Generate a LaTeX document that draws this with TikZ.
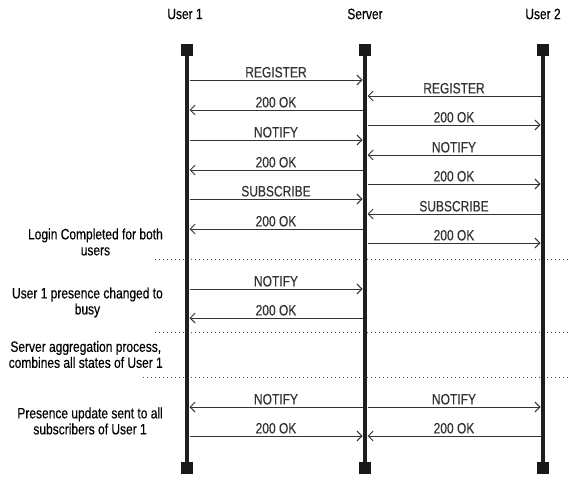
\documentclass[tikz,border=0pt]{standalone}
\usepackage{fontspec}
\setmainfont{Liberation Sans}[FakeStretch=0.8,FakeBold=0.3]
\usetikzlibrary{calc,arrows.meta}

\begin{document}
\begin{tikzpicture}[x=1pt,y=-1pt,
  head/.style={fill=black!90,inner sep=0,minimum size=12pt},
  life/.style={line width=4.5pt,black!88},
  msg/.style={black!80,line width=0.9pt,-{Straight Barb[length=5pt,width=10pt]},shorten <=2.5pt,shorten >=2.5pt},
  lbl/.style={above,inner sep=2pt,font=\fontsize{15}{16}\selectfont},
  note/.style={anchor=east,align=center,inner sep=0,font=\fontsize{15}{16}\selectfont},
  sep/.style={black!70,line width=0.9pt,dash pattern=on 1.2pt off 2.8pt}]
\useasboundingbox (0,0) rectangle (568,487);
\coordinate (U1) at (187,0); \coordinate (S) at (365,0); \coordinate (U2) at (543,0);
% headers
\node[font=\fontsize{15}{16}\selectfont] (h1) at (185,14) {User 1};
\node[font=\fontsize{15}{16}\selectfont] (h2) at (365,14) {Server};
\node[font=\fontsize{15}{16}\selectfont] (h3) at (543,14) {User 2};
% phase separators
\coordinate (d1) at (155,259); \coordinate (d1e) at (568,259);
\coordinate (d2) at (155,332); \coordinate (d2e) at (568,332);
\coordinate (d3) at (143,377); \coordinate (d3e) at (568,377);
\draw[sep] (d1)--(d1e); \draw[sep] (d2)--(d2e); \draw[sep] (d3)--(d3e);
% lifelines
\node[head] (u1top) at (187,50) {}; \node[head] (u1bot) at (187,468) {};
\node[head] (stop) at (365,50) {}; \node[head] (sbot) at (365,468) {};
\node[head] (u2top) at (543,50) {}; \node[head] (u2bot) at (543,468) {};
\draw[life] (u1top)--(u1bot); \draw[life] (stop)--(sbot); \draw[life] (u2top)--(u2bot);
% messages
\foreach \y/\a/\b/\t in {80/U1/S/REGISTER,96/U2/S/REGISTER,110/S/U1/200 OK,125/S/U2/200 OK,
  140/U1/S/NOTIFY,155/U2/S/NOTIFY,170/S/U1/200 OK,184/S/U2/200 OK,
  199/U1/S/SUBSCRIBE,214/U2/S/SUBSCRIBE,229/S/U1/200 OK,243/S/U2/200 OK,
  289/U1/S/NOTIFY,318/S/U1/200 OK,
  407/S/U1/NOTIFY,407/S/U2/NOTIFY,436/U1/S/200 OK,436/U2/S/200 OK}
  \draw[msg] ($(\a)+(0,\y)$) -- node[lbl] {\t} ($(\b)+(0,\y)$);
% notes
\node[note] (n1) at (163,242) {Login Completed for both\\users};
\node[note] (n2) at (163,302.5) {User 1 presence changed to\\busy};
\node[note] (n3) at (163,354.5) {Server aggregation process,\\combines all states of User 1};
\node[note] (n4) at (163,421) {Presence update sent to all\\subscribers of User 1};
\end{tikzpicture}
\end{document}
